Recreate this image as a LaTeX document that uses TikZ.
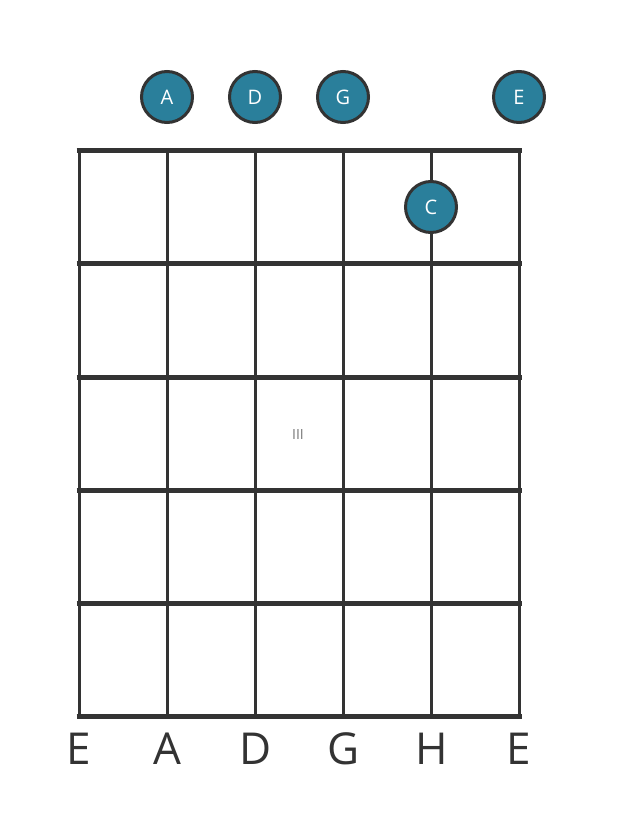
\documentclass[tikz,border=0pt]{standalone}
\usepackage{fontspec}
\setmainfont{Open Sans}
\definecolor{linegray}{HTML}{333333}
\definecolor{dotfill}{HTML}{2A7F9B}
\definecolor{fretnum}{HTML}{777777}
\begin{document}
\begin{tikzpicture}[x=1pt,y=-1pt,
  stringline/.style={draw=linegray,line width=3pt},
  fretline/.style={draw=linegray,line width=5pt},
  dot/.style={circle,draw=linegray,line width=3pt,fill=dotfill,minimum size=51pt,inner sep=0pt,text=white,font=\fontsize{20}{22}\selectfont},
  bottomlabel/.style={text=linegray,font=\fontsize{44}{48}\selectfont,inner sep=0pt},
  fretlabel/.style={text=fretnum,font=\fontsize{14}{16}\selectfont,inner sep=0pt}]
\useasboundingbox (0,0) rectangle (617,835);
% strings
\foreach \x [count=\i] in {79,167,255,343,431,519} {
  \coordinate (s\i t) at (\x,150.5);
  \coordinate (s\i b) at (\x,716);
  \draw[stringline] (s\i t) -- (s\i b);
}
% frets
\foreach \y [count=\j] in {150.5,263.5,377,490,603,716} {
  \coordinate (f\j l) at (76.5,\y);
  \coordinate (f\j r) at (521.5,\y);
  \draw[fretline] (f\j l) -- (f\j r);
}
\node[fretlabel] (pos) at (298,434) {III};
% open strings
\node[dot] (oA) at (167,97) {A};
\node[dot] (oD) at (255,97) {D};
\node[dot] (oG) at (343,97) {G};
\node[dot] (oE) at (519,97) {E};
% fretted note
\node[dot] (nC) at (431,207) {C};
% string names
\node[bottomlabel] (l1) at (79,749) {E};
\node[bottomlabel] (l2) at (167,749) {A};
\node[bottomlabel] (l3) at (256,749) {D};
\node[bottomlabel] (l4) at (344,749) {G};
\node[bottomlabel] (l5) at (432,749) {H};
\node[bottomlabel] (l6) at (519,749) {E};
\end{tikzpicture}
\end{document}
